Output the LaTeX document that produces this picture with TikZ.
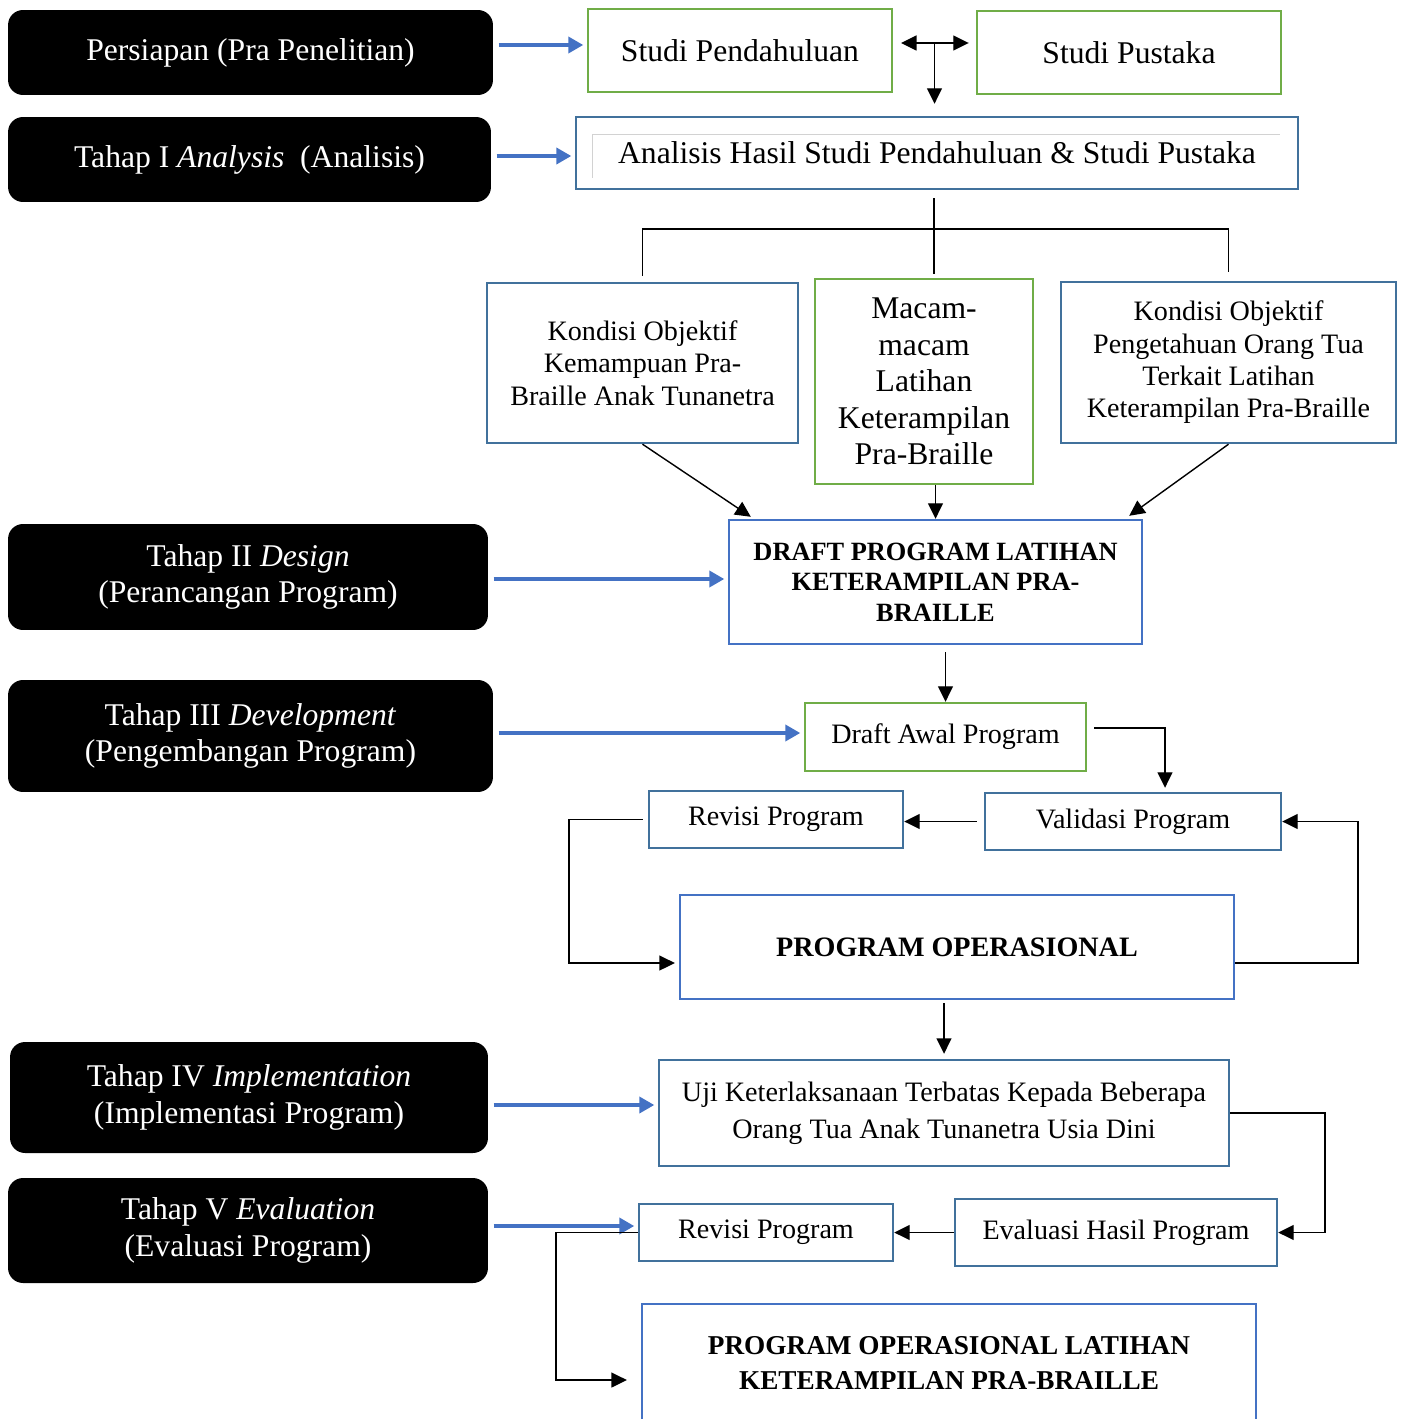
\documentclass[tikz,border=0pt]{standalone}
\usepackage{fontspec}
\setmainfont{Liberation Serif}
\usetikzlibrary{arrows.meta}
\usepackage{xcolor}
\definecolor{boxgreen}{RGB}{112,173,71}
\definecolor{boxblue}{RGB}{65,113,156}
\definecolor{lightblue}{RGB}{68,114,196}
\newcommand\bigtxt{\fontsize{18}{20.7}\selectfont}
\newcommand\midtxt{\fontsize{16}{18.4}\selectfont}
\tikzset{
  blackbox/.style={fill=black, rounded corners=0.3cm, text=white, align=center, font=\bigtxt},
  greenbox/.style={draw=boxgreen, line width=1.4pt, align=center, font=\bigtxt},
  bluebox/.style={draw=boxblue, line width=1.4pt, align=center, font=\midtxt},
  brightbox/.style={draw=lightblue, line width=1.4pt, align=center, font=\bfseries\midtxt},
  bluearrow/.style={draw=lightblue, line width=2.3pt, -{Triangle[length=0.3cm,width=0.32cm]}, shorten <=3pt, shorten >=2pt},
  conn/.style={draw=black, line width=0.8pt},
  arr/.style={conn, ->},
}

\begin{document}
\begin{tikzpicture}[x=0.02cm, y=-0.02cm, >={Triangle[length=0.31cm,width=0.3cm]}]
            \useasboundingbox (0,0) rectangle (1405,1419);
            \clip (0,0) rectangle (1405,1419);

            % stages
            \node[blackbox, minimum width=9.7cm, minimum height=1.7cm] (prep) at (250.5,52.5) {Persiapan (Pra Penelitian)};
            \node[blackbox, minimum width=9.66cm, minimum height=1.7cm] (tahap1) at (249.5,159.5) {Tahap I \textit{Analysis}~ (Analisis)};
            \node[blackbox, minimum width=9.6cm, minimum height=2.12cm] (tahap2) at (248,577) {Tahap II \textit{Design}\\(Perancangan Program)};
            \node[blackbox, minimum width=9.7cm, minimum height=2.24cm] (tahap3) at (250.5,736) {Tahap III \textit{Development}\\(Pengembangan Program)};
            \node[blackbox, minimum width=9.56cm, minimum height=2.22cm] (tahap4) at (249,1097.5) {Tahap IV \textit{Implementation}\\(Implementasi Program)};
            \node[blackbox, minimum width=9.6cm, minimum height=2.1cm] (tahap5) at (248,1230.5) {Tahap V \textit{Evaluation}\\(Evaluasi Program)};

            % steps
            \node[greenbox, minimum width=6.08cm, minimum height=1.66cm] (studipend) at (740,50.5) {Studi Pendahuluan};
            \node[greenbox, minimum width=6.08cm, minimum height=1.66cm] (studipus) at (1129,52.5) {Studi Pustaka};
            \node[bluebox, font=\bigtxt, minimum width=14.44cm, minimum height=1.44cm] (analisis) at (937,153) {Analisis Hasil Studi Pendahuluan \& Studi Pustaka};
            \draw[gray!35, line width=0.5pt] (592,178) -- (592,134) -- (1280,134);

            \node[bluebox, minimum width=6.22cm, minimum height=3.2cm] (kondisi1) at (642.5,363) {Kondisi Objektif\\Kemampuan Pra-\\Braille Anak Tunanetra};
            \node[greenbox, minimum width=4.36cm, minimum height=4.1cm] (macam) at (924,381.5) {Macam-\\macam\\Latihan\\Keterampilan\\Pra-Braille};
            \node[bluebox, minimum width=6.7cm, minimum height=3.22cm] (kondisi2) at (1228.5,362.5) {Kondisi Objektif\\Pengetahuan Orang Tua\\Terkait Latihan\\Keterampilan Pra-Braille};

            \node[brightbox, font=\bfseries\fontsize{15}{17.3}\selectfont, minimum width=8.26cm, minimum height=2.48cm] (draft) at (935.5,582) {DRAFT PROGRAM LATIHAN\\KETERAMPILAN PRA-\\BRAILLE};
            \node[greenbox, font=\midtxt, minimum width=5.62cm, minimum height=1.36cm] (draftawal) at (945.5,737) {Draft Awal Program};
            \node[bluebox, minimum width=5.08cm, minimum height=1.14cm] (revisi1) at (776,819.5) {Revisi Program};
            \node[bluebox, minimum width=5.92cm, minimum height=1.14cm] (validasi) at (1133,821.5) {Validasi Program};
            \node[brightbox, minimum width=11.08cm, minimum height=2.08cm] (progop) at (957,947) {PROGRAM OPERASIONAL};
            \node[bluebox, font=\fontsize{16}{21}\selectfont, minimum width=11.4cm, minimum height=2.12cm] (uji) at (944,1113) {Uji Keterlaksanaan Terbatas Kepada Beberapa\\Orang Tua Anak Tunanetra Usia Dini};
            \node[bluebox, minimum width=5.08cm, minimum height=1.14cm] (revisi2) at (766,1232.5) {Revisi Program};
            \node[bluebox, minimum width=6.44cm, minimum height=1.34cm] (evaluasi) at (1116,1232.5) {Evaluasi Hasil Program};
            \node[brightbox, font=\bfseries\fontsize{15.5}{20.4}\selectfont, minimum width=12.28cm, minimum height=2.36cm] (final) at (949,1363) {PROGRAM OPERASIONAL LATIHAN\\KETERAMPILAN PRA-BRAILLE};

            % stage arrows
            \draw[bluearrow] ([yshift=0.15cm]prep.east) -- ([yshift=0.15cm]prep.east -| studipend.west);
            \draw[bluearrow] ([yshift=0.07cm]tahap1.east) -- ([yshift=0.07cm]tahap1.east -| analisis.west);
            \draw[bluearrow] ([yshift=-0.04cm]tahap2.east) -- ([yshift=-0.04cm]tahap2.east -| draft.west);
            \draw[bluearrow] ([yshift=0.06cm]tahap3.east) -- ([yshift=0.06cm]tahap3.east -| draftawal.west);
            \draw[bluearrow] ([yshift=-0.15cm]tahap4.east) -- ([yshift=-0.15cm]tahap4.east -| uji.west);
            \draw[bluearrow] ([yshift=0.09cm]tahap5.east) -- ([yshift=0.09cm]tahap5.east -| revisi2.west);

            % flow
            \path (studipend.east) -- (studipus.west) coordinate[midway] (pendpus);
            \draw[conn, <->, shorten <=4.5pt, shorten >=4pt] ([yshift=0.15cm]studipend.east) -- ([yshift=0.15cm]studipend.east -| studipus.west);
            \draw[arr, shorten >=0.24cm] ([yshift=0.15cm]pendpus) -- (pendpus |- analisis.north);

            \coordinate (branch) at (934,229);
            \draw[conn, shorten <=0.16cm, shorten >=0.08cm] (branch |- analisis.south) -- (branch |- macam.north);
            \draw[conn, shorten <=0.12cm, shorten >=0.18cm] (kondisi1.north) |- (branch) -| (kondisi2.north);

            \draw[arr] (kondisi1.south) -- ([xshift=0.46cm,yshift=0.04cm]draft.north west);
            \draw[arr] (draft.north |- macam.south) -- (draft.north);
            \draw[arr] (kondisi2.south) -- ([xshift=-0.28cm,yshift=0.06cm]draft.north east);

            \draw[arr, shorten <=0.14cm] (draftawal.north |- draft.south) -- (draftawal.north);
            \draw[arr, shorten <=0.14cm, shorten >=0.08cm] ([yshift=0.18cm]draftawal.east) -| ([xshift=0.64cm]validasi.north);
            \draw[arr, shorten <=0.14cm] (validasi.west) -- (validasi.west -| revisi1.east);
            \draw[arr, shorten <=0.1cm, shorten >=0.08cm] (revisi1.west) -- ++(-79,0) |- ([yshift=-0.32cm]progop.west);
            \draw[arr] ([yshift=-0.32cm]progop.east) -- ++(123,0) |- (validasi.east);

            \draw[arr, shorten <=0.06cm, shorten >=0.1cm] (uji.north |- progop.south) -- (uji.north);
            \draw[arr] (uji.east) -- ++(95,0) |- (evaluasi.east);
            \draw[arr] (evaluasi.west) -- (revisi2.east);
            \draw[arr, shorten >=0.28cm] (revisi2.west) -- ++(-82,0) |- ([yshift=-0.34cm]final.west);

        \end{tikzpicture}
\end{document}
